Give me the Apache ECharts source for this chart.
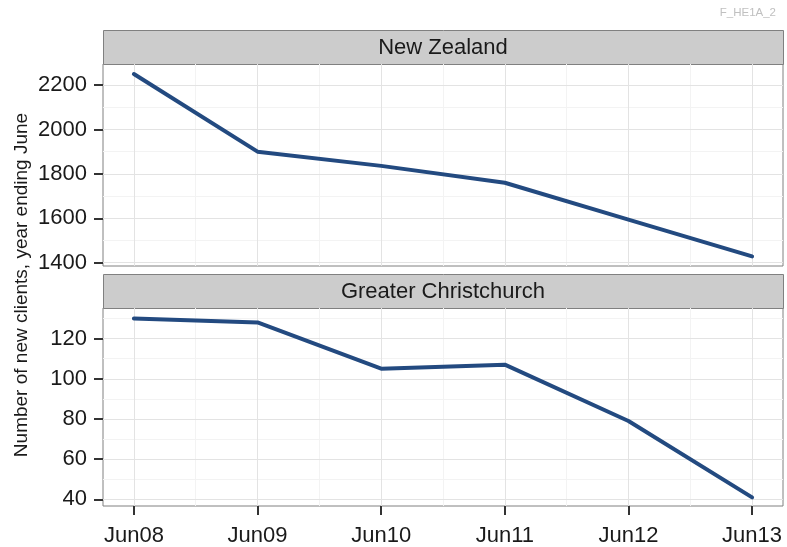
<!DOCTYPE html>
<html>
<head>
<meta charset="utf-8">
<script src="https://cdn.jsdelivr.net/npm/echarts@6/dist/echarts.min.js"></script>
<style>
html,body{margin:0;padding:0;background:#fff;}
#chart{width:787px;height:547px;}
</style>
</head>
<body>
<div id="chart"></div>
<script>
// ---- data ----
const categories = ['Jun08', 'Jun09', 'Jun10', 'Jun11', 'Jun12', 'Jun13'];
const nzValues = [2250, 1900, 1836, 1760, 1594, 1428];
const chchValues = [130, 128, 105, 107, 79, 41];
const panelTitles = ['New Zealand', 'Greater Christchurch'];
const nzTicks = [1400, 1600, 1800, 2000, 2200];
const nzMinor = [1500, 1700, 1900, 2100];
const chchTicks = [40, 60, 80, 100, 120];
const chchMinor = [50, 70, 90, 110, 130];
const xTicks = [0, 1, 2, 3, 4, 5];
const xMinor = [0.5, 1.5, 2.5, 3.5, 4.5];

// ---- layout ----
const FONT = 'Liberation Sans, Arial, Helvetica, sans-serif';
const L = 103, W = 680;
const panels = [
  {stripTop: 30, top: 64, height: 202},
  {stripTop: 274, top: 308, height: 201}
];
const lineColor = '#234a80';
const majorGrid = '#e3e3e3';
const minorGrid = '#f3f3f3';

function gridLines(yMajor, yMinor) {
  const d = [];
  xMinor.forEach(v => d.push({xAxis: v, lineStyle: {color: minorGrid, width: 1, type: 'solid'}}));
  yMinor.forEach(v => d.push({yAxis: v, lineStyle: {color: minorGrid, width: 1, type: 'solid'}}));
  xTicks.forEach(v => d.push({xAxis: v, lineStyle: {color: majorGrid, width: 1, type: 'solid'}}));
  yMajor.forEach(v => d.push({yAxis: v, lineStyle: {color: majorGrid, width: 1, type: 'solid'}}));
  return d;
}

const xAxisBase = (gi, showLabels) => ({
  type: 'value', gridIndex: gi, min: -0.25, max: 5.25,
  axisLine: {show: false, onZero: false},
  splitLine: {show: false},
  axisTick: {show: showLabels, customValues: xTicks, length: 9, lineStyle: {color: '#333', width: 2}},
  axisLabel: {show: showLabels, customValues: xTicks, margin: 19, color: '#1a1a1a', fontSize: 22, fontFamily: FONT,
    formatter: v => categories[Math.round(v)] || ''}
});
const yAxisBase = (gi, min, max, ticks) => ({
  type: 'value', gridIndex: gi, min: min, max: max,
  axisLine: {show: false, onZero: false},
  splitLine: {show: false},
  axisTick: {show: true, customValues: ticks, length: 9, lineStyle: {color: '#333', width: 2}},
  axisLabel: {show: true, customValues: ticks, margin: 16, color: '#1a1a1a', fontSize: 22, fontFamily: FONT,
    formatter: v => String(v)}
});

const graphics = [];
panels.forEach((p, i) => {
  graphics.push({type: 'rect', z: 0, shape: {x: L + 0.5, y: p.stripTop + 0.5, width: W, height: p.top - p.stripTop},
    style: {fill: '#cccccc', stroke: '#808080', lineWidth: 1}});
  graphics.push({type: 'text', z: 1, x: L + W / 2, y: (p.stripTop + p.top) / 2 + 1,
    style: {text: panelTitles[i], fill: '#1a1a1a', font: '22px ' + FONT, textAlign: 'center', textVerticalAlign: 'middle'}});
});
graphics.push({type: 'text', x: 22, y: 285, rotation: Math.PI / 2,
  style: {text: 'Number of new clients, year ending June', fill: '#1a1a1a', font: '19px ' + FONT, textAlign: 'center', textVerticalAlign: 'middle'}});
graphics.push({type: 'text', x: 776, y: 13,
  style: {text: 'F_HE1A_2', fill: '#c0c0c0', font: '11.5px ' + FONT, textAlign: 'right', textVerticalAlign: 'middle'}});

const chart = echarts.init(document.getElementById('chart'), null, {renderer: 'canvas'});
chart.setOption({
  animation: false,
  backgroundColor: '#ffffff',
  grid: panels.map(p => ({left: L, top: p.top, width: W, height: p.height, show: true,
    backgroundColor: 'transparent', borderColor: '#808080', borderWidth: 1, containLabel: false})),
  xAxis: [xAxisBase(0, false), xAxisBase(1, true)],
  yAxis: [yAxisBase(0, 1385, 2295, nzTicks), yAxisBase(1, 36.7, 135.2, chchTicks)],
  graphic: graphics,
  series: [
    {type: 'line', xAxisIndex: 0, yAxisIndex: 0, data: [], z: 1, silent: true,
      markLine: {silent: true, symbol: 'none', label: {show: false}, animation: false, data: gridLines(nzTicks, nzMinor)}},
    {type: 'line', xAxisIndex: 1, yAxisIndex: 1, data: [], z: 1, silent: true,
      markLine: {silent: true, symbol: 'none', label: {show: false}, animation: false, data: gridLines(chchTicks, chchMinor)}},
    {type: 'line', xAxisIndex: 0, yAxisIndex: 0, z: 5, showSymbol: false, symbol: 'none',
      lineStyle: {color: lineColor, width: 4, cap: 'round', join: 'round'},
      data: nzValues.map((v, i) => [i, v])},
    {type: 'line', xAxisIndex: 1, yAxisIndex: 1, z: 5, showSymbol: false, symbol: 'none',
      lineStyle: {color: lineColor, width: 4, cap: 'round', join: 'round'},
      data: chchValues.map((v, i) => [i, v])}
  ]
});
</script>
</body>
</html>
